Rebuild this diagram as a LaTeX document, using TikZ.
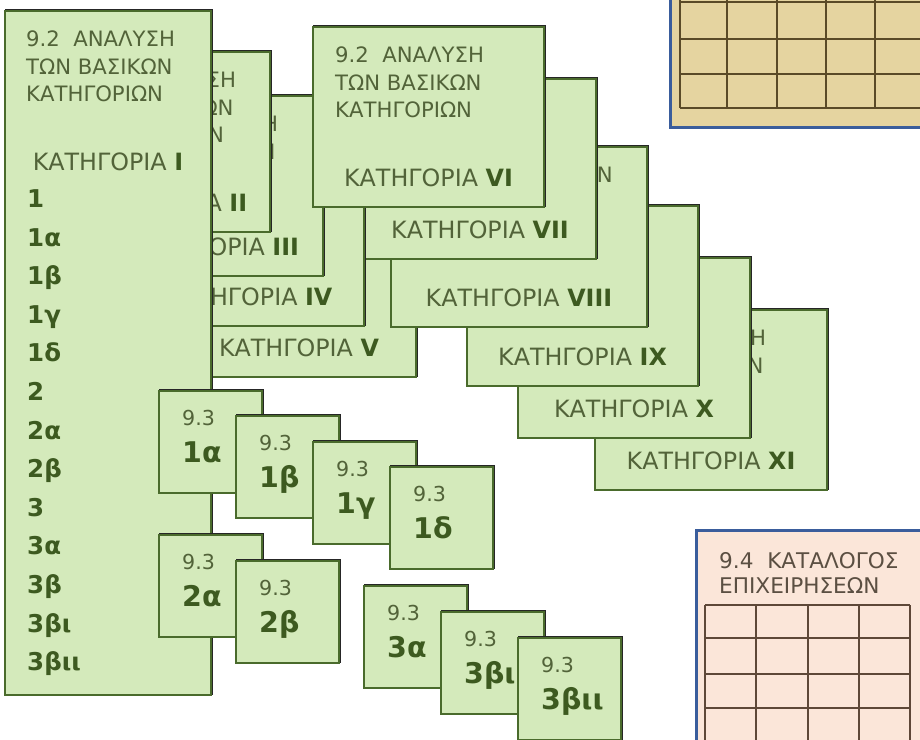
\documentclass[tikz,border=0pt]{standalone}
\usepackage{fontspec}
\setmainfont{DejaVu Sans}
\usetikzlibrary{calc}
\definecolor{gfill}{HTML}{D4EABB}
\definecolor{gline}{HTML}{4A6B2C}
\definecolor{gtext}{HTML}{526339}
\definecolor{gbold}{HTML}{3D5A20}
\definecolor{tanfill}{HTML}{E5D4A0}
\definecolor{peach}{HTML}{FBE6D9}
\definecolor{bline}{HTML}{3A5D9C}
\definecolor{trgridc}{HTML}{5A4A28}
\definecolor{brgridc}{HTML}{5E4838}
\definecolor{ptext}{HTML}{5B4F42}
\tikzset{
  gbox/.style={draw=gline, fill=gfill, line width=2.2pt, inner sep=0pt, outer sep=0pt},
  gshadow/.style={draw=black!85, line width=2pt, inner sep=0pt, outer sep=0pt},
  ttl/.style={font=\fontsize{21.2}{24}\selectfont, text=gtext, inner sep=0pt},
  lbl/.style={font=\fontsize{23.8}{26}\selectfont, text=gtext, inner sep=0pt},
  lst/.style={font=\fontsize{24.5}{26}\selectfont\bfseries, text=gbold, inner sep=0pt, anchor=base west},
  sml/.style={font=\fontsize{20.6}{24}\selectfont, text=gtext, inner sep=0pt},
  smb/.style={font=\fontsize{28.5}{30}\selectfont\bfseries, text=gbold, inner sep=0pt},
  ptx/.style={font=\fontsize{21.6}{24}\selectfont, text=ptext, inner sep=0pt},
  tablebox/.style={draw=bline, line width=3pt, inner sep=0pt, outer sep=0pt},
  trgrid/.style={draw=trgridc, line width=1.5pt},
  brgrid/.style={draw=brgridc, line width=1.3pt}
}
\newcommand\catbox[5]{%
  \node[gshadow, minimum width=#4pt, minimum height=180pt, anchor=north west] (#1s) at (#2+1,#3-0.6) {};
  \node[gbox, minimum width=#4pt, minimum height=180pt, anchor=north west] (#1) at (#2,#3) {};
  \node[ttl, anchor=base west] (#1a) at ($(#1.north west)+(22,35.5)$) {9.2\ \ ΑΝΑΛΥΣΗ};
  \node[ttl, anchor=base west] (#1b) at ($(#1.north west)+(22,63)$) {ΤΩΝ ΒΑΣΙΚΩΝ};
  \node[ttl, anchor=base west] (#1c) at ($(#1.north west)+(22,90.5)$) {ΚΑΤΗΓΟΡΙΩΝ};
  \node[lbl, anchor=base] (#1l) at ($(#1.south)+(0,-20.5)$) {ΚΑΤΗΓΟΡΙΑ \textcolor{gbold}{\bfseries #5}};
}
\newcommand\smbox[4]{%
  \node[gshadow, minimum width=103pt, minimum height=102pt, anchor=north west] (#1s) at (#2+1,#3-0.6) {};
  \node[gbox, minimum width=103pt, minimum height=102pt, anchor=north west] (#1) at (#2,#3) {};
  \node[sml, anchor=base west] (#1a) at ($(#1.north west)+(23,34.5)$) {9.3};
  \node[smb, anchor=base west] (#1b) at ($(#1.north west)+(23,71.5)$) {#4};
}
\begin{document}
\begin{tikzpicture}[x=1pt, y=-1pt]
\fill[white] (0,0) rectangle (920,739);
\useasboundingbox (0,0) rectangle (920,739);

% top-right table
\node[tablebox, fill=tanfill, minimum width=280pt, minimum height=160pt, anchor=south west] (tr) at (670,127) {};
\foreach \x in {680,727,777,826,875,924} \draw[trgrid] (\x,-5) -- (\x,108);
\foreach \y in {2,39,74,108} \draw[trgrid] (680,\y) -- (930,\y);

% bottom-right table
\node[tablebox, fill=peach, minimum width=260pt, minimum height=240pt, anchor=north west] (br) at (696,530) {};
\node[ptx, anchor=base west] (brt1) at (719,568) {9.4\ \ ΚΑΤΑΛΟΓΟΣ};
\node[ptx, anchor=base west] (brt2) at (719,593.5) {ΕΠΙΧΕΙΡΗΣΕΩΝ};
\foreach \x in {705,756,808,859,910} \draw[brgrid] (\x,605) -- (\x,750);
\foreach \y in {605,638,674,708,742} \draw[brgrid] (705,\y) -- (910,\y);

% category boxes, back to front
\catbox{k11}{595}{310}{232}{XI}
\catbox{k10}{518}{258}{232}{X}
\catbox{k9}{467}{206}{231}{IX}
\catbox{k5}{182}{197}{234}{V}
\node[gshadow, minimum width=256pt, minimum height=180pt, anchor=north west] (k8s) at (392,146.4) {};
\node[gbox, minimum width=256pt, minimum height=180pt, anchor=north west] (k8) at (391,147) {};
\node[ttl, anchor=base east] (k8c) at (613,182.5) {ΚΑΤΗΓΟΡΙΩΝ};
\node[lbl, anchor=base] (k8l) at ($(k8.south)+(0,-20.5)$) {ΚΑΤΗΓΟΡΙΑ \textcolor{gbold}{\bfseries VIII}};
\catbox{k7}{364}{79}{232}{VII}
\catbox{k4}{132}{146}{232}{IV}
\catbox{k3}{107}{96}{216}{III}
\catbox{k6}{313}{27}{231}{VI}
\catbox{k2}{65}{52}{205}{II}

% main box I
\node[gshadow, minimum width=206pt, minimum height=684pt, anchor=north west] (k1s) at (6,10.4) {};
\node[gbox, minimum width=206pt, minimum height=684pt, anchor=north west] (k1) at (5,11) {};
\node[ttl, anchor=base west] (k1a) at (26,46.5) {9.2\ \ ΑΝΑΛΥΣΗ};
\node[ttl, anchor=base west] (k1b) at (26,74) {ΤΩΝ ΒΑΣΙΚΩΝ};
\node[ttl, anchor=base west] (k1c) at (26,101.5) {ΚΑΤΗΓΟΡΙΩΝ};
\node[lbl, anchor=base] (k1l) at (108,170.5) {ΚΑΤΗΓΟΡΙΑ \textcolor{gbold}{\bfseries I}};
\foreach \t [count=\i] in {1,1α,1β,1γ,1δ,2,2α,2β,3,3α,3β,3βι,3βιι}
  \node[lst] (li\i) at (27,{207.5+38.6*(\i-1)}) {\t};

% 9.3 boxes
\smbox{s1a}{159}{391}{1α}
\smbox{s1b}{236}{416}{1β}
\smbox{s1c}{313}{442}{1γ}
\smbox{s1d}{390}{467}{1δ}
\smbox{s2a}{159}{535}{2α}
\smbox{s2b}{236}{561}{2β}
\smbox{s3a}{364}{586}{3α}
\smbox{s3b}{441}{612}{3βι}
\smbox{s3c}{518}{638}{3βιι}
\end{tikzpicture}
\end{document}
